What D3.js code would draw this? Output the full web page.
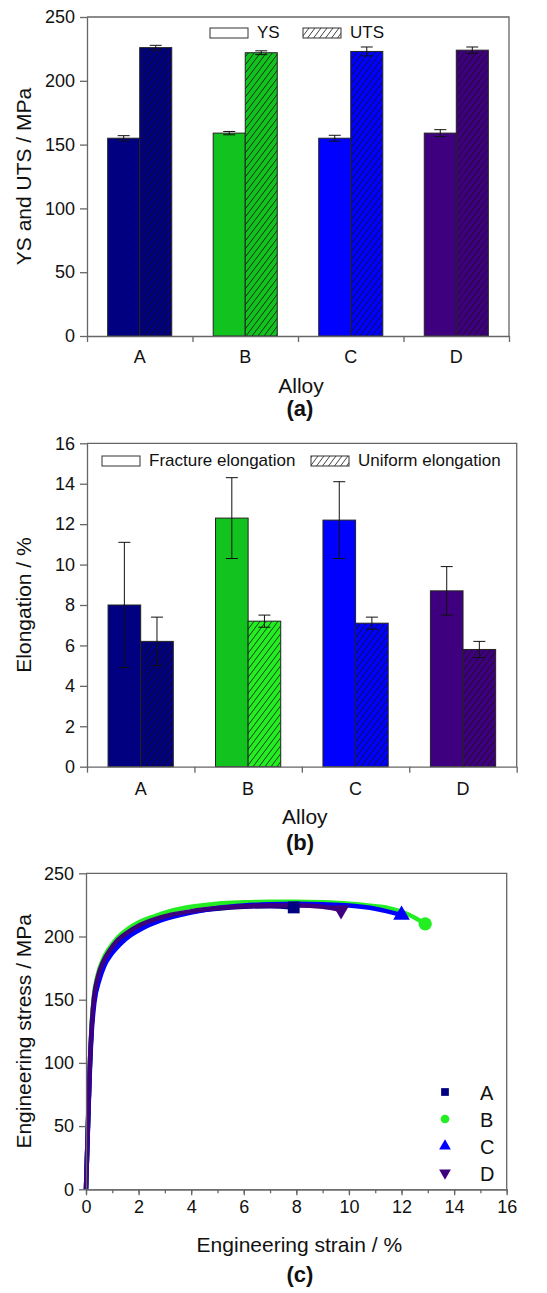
<!DOCTYPE html>
<html>
<head>
<meta charset="utf-8">
<script src="https://cdn.jsdelivr.net/npm/d3@7"></script>
<style>
  body { margin: 0; background: #fff; }
  text { font-family: "Liberation Sans", Arial, sans-serif; fill: #111; }
</style>
</head>
<body>
<div id="chart"></div>
<script>
var width = 547;
var height = 1293;

// categories and bar data
var categories = ["A", "B", "C", "D"];
var ysValues = [155, 159, 155, 159];
var ysErrors = [2, 1.3, 2.3, 2.7];
var utsValues = [226, 222, 223, 224];
var utsErrors = [1.8, 1.5, 3.5, 2.5];

var fractureValues = [8.0, 12.3, 12.2, 8.7];
var fractureErrors = [3.1, 2.0, 1.9, 1.2];
var uniformValues = [6.2, 7.2, 7.1, 5.8];
var uniformErrors = [1.2, 0.3, 0.3, 0.4];

var alloyColors = ["#000080", "#12c21f", "#0000ff", "#3f007f"];
var uniformColors = ["#000080", "#22ee22", "#0000ff", "#3f007f"];
var curveColors = ["#000080", "#22ee22", "#0000ff", "#3f007f"];

var yTicksA = [0, 50, 100, 150, 200, 250];
var yTicksB = [0, 2, 4, 6, 8, 10, 12, 14, 16];
var xTicksC = [0, 2, 4, 6, 8, 10, 12, 14, 16];
var yTicksC = [0, 50, 100, 150, 200, 250];

// stress-strain curves
var strainA = [0, 0.08, 0.15, 0.22, 0.3, 0.45, 0.65, 0.9, 1.2, 1.6, 2.0, 2.6, 3.2, 4.0, 5.0, 6.0, 7.0, 7.9];
var stressA = [0, 55, 100, 130, 150, 167, 179, 188, 196, 202.5, 207.5, 212.5, 216, 219.5, 222, 223.5, 224, 223];
var strainB = [0, 0.08, 0.15, 0.22, 0.3, 0.45, 0.65, 0.9, 1.2, 1.6, 2.0, 2.6, 3.2, 4.0, 5.0, 6.0, 7.0, 8.0, 9.0, 10.0, 11.0, 11.6, 12.2, 12.9];
var stressB = [0, 55, 100, 132, 153, 170, 182, 191, 199, 206, 211, 216, 220, 223.5, 226, 227, 227.5, 227.5, 227, 226, 224, 222, 218, 210];
var strainC = [0, 0.08, 0.15, 0.22, 0.32, 0.5, 0.7, 1.0, 1.3, 1.7, 2.1, 2.7, 3.3, 4.0, 5.0, 6.0, 7.0, 8.0, 9.0, 10.0, 11.0, 12.0];
var stressC = [0, 52, 95, 125, 148, 165, 177, 187, 194, 201, 206, 211.5, 215.5, 219, 222.5, 224.5, 225.5, 226, 225.5, 224.5, 222, 217];
var strainD = [0, 0.08, 0.15, 0.22, 0.3, 0.45, 0.65, 0.9, 1.2, 1.6, 2.0, 2.6, 3.2, 4.0, 5.0, 6.0, 7.0, 8.0, 9.0, 9.7];
var stressD = [0, 55, 100, 130, 151, 168, 180, 189, 197, 203.5, 208.5, 213.5, 217, 220, 222.5, 224, 224.5, 224.5, 223.5, 221];

var axisColor = "#666";
var tickFont = "18px";
var titleFont = "21px";

var svg = d3.select("#chart").append("svg")
    .attr("width", width)
    .attr("height", height);

var defs = svg.append("defs");

// one hatch pattern per fill colour
function hatchId(color) {
    var id = "hatch" + color.replace("#", "");
    if (defs.select("#" + id).empty()) {
        var p = defs.append("pattern")
            .attr("id", id)
            .attr("patternUnits", "userSpaceOnUse")
            .attr("width", 6)
            .attr("height", 8);
        p.append("rect").attr("width", 6).attr("height", 8).attr("fill", color);
        p.append("path")
            .attr("d", "M0,8 L6,0 M-1.5,2 L1.5,-2 M4.5,10 L7.5,6")
            .attr("stroke", "#111")
            .attr("stroke-width", 0.8);
    }
    return "url(#" + id + ")";
}

function styleAxis(g) {
    g.select(".domain").attr("stroke", axisColor).attr("stroke-width", 1.3);
    g.selectAll(".tick line").attr("stroke", axisColor).attr("stroke-width", 1.3);
    g.selectAll(".tick text").style("font-size", tickFont).attr("fill", "#111");
}

function drawFrame(left, top, right, bottom) {
    svg.append("path")
        .attr("d", "M" + left + "," + top + " L" + right + "," + top + " L" + right + "," + bottom)
        .attr("fill", "none")
        .attr("stroke", axisColor)
        .attr("stroke-width", 1.3);
}

function addTitles(cfg) {
    svg.append("text")
        .attr("transform", "translate(31," + ((cfg.top + cfg.bottom) / 2) + ") rotate(-90)")
        .attr("text-anchor", "middle")
        .style("font-size", titleFont)
        .text(cfg.yTitle);

    svg.append("text")
        .attr("x", (cfg.left + cfg.right) / 2 + 3)
        .attr("y", cfg.xTitleY)
        .attr("text-anchor", "middle")
        .style("font-size", titleFont)
        .text(cfg.xTitle);

    svg.append("text")
        .attr("x", 300)
        .attr("y", cfg.letterY)
        .attr("text-anchor", "middle")
        .style("font-size", "22px")
        .style("font-weight", "bold")
        .text(cfg.letter);
}

function drawBarPanel(cfg) {
    var x = d3.scaleBand()
        .domain(categories)
        .range([cfg.left, cfg.right])
        .paddingInner(0.393)
        .paddingOuter(0.196);
    var xSeries = d3.scaleBand()
        .domain([0, 1])
        .range([0, x.bandwidth()]);
    var y = d3.scaleLinear()
        .domain([0, cfg.yMax])
        .range([cfg.bottom, cfg.top]);

    drawFrame(cfg.left, cfg.top, cfg.right, cfg.bottom);

    var rows = categories.map(function (c, i) {
        return [
            { cat: c, s: 0, value: cfg.values[0][i], err: cfg.errors[0][i], fill: cfg.colors[0][i] },
            { cat: c, s: 1, value: cfg.values[1][i], err: cfg.errors[1][i], fill: hatchId(cfg.colors[1][i]) }
        ];
    });
    var bars = d3.merge(rows);

    var g = svg.append("g");
    g.selectAll("rect")
        .data(bars)
        .enter()
        .append("rect")
        .attr("x", function (d) { return x(d.cat) + xSeries(d.s); })
        .attr("y", function (d) { return y(d.value); })
        .attr("width", xSeries.bandwidth())
        .attr("height", function (d) { return y(0) - y(d.value); })
        .attr("fill", function (d) { return d.fill; })
        .attr("stroke", "#222")
        .attr("stroke-width", 1);

    // error bars
    var capHalf = 6;
    var eb = g.selectAll("g.err")
        .data(bars)
        .enter()
        .append("g")
        .attr("class", "err")
        .attr("stroke", "#111")
        .attr("stroke-width", 1);
    function cx(d) { return x(d.cat) + xSeries(d.s) + xSeries.bandwidth() / 2; }
    eb.append("line")
        .attr("x1", cx).attr("x2", cx)
        .attr("y1", function (d) { return y(d.value + d.err); })
        .attr("y2", function (d) { return y(d.value - d.err); });
    eb.append("line")
        .attr("x1", function (d) { return cx(d) - capHalf; })
        .attr("x2", function (d) { return cx(d) + capHalf; })
        .attr("y1", function (d) { return y(d.value + d.err); })
        .attr("y2", function (d) { return y(d.value + d.err); });
    eb.append("line")
        .attr("x1", function (d) { return cx(d) - capHalf; })
        .attr("x2", function (d) { return cx(d) + capHalf; })
        .attr("y1", function (d) { return y(d.value - d.err); })
        .attr("y2", function (d) { return y(d.value - d.err); });

    // y axis
    var yAxis = svg.append("g")
        .attr("transform", "translate(" + cfg.left + ",0)")
        .call(d3.axisLeft(y).tickValues(cfg.yTicks).tickSize(7).tickPadding(5).tickSizeOuter(0));
    styleAxis(yAxis);

    // x axis: ticks at the category boundaries, labels at band centres
    var bounds = d3.scaleLinear().domain([0, categories.length]).range([cfg.left, cfg.right]);
    var xAxis = svg.append("g")
        .attr("transform", "translate(0," + cfg.bottom + ")")
        .call(d3.axisBottom(bounds).ticks(categories.length).tickFormat("").tickSize(6).tickSizeOuter(0));
    styleAxis(xAxis);

    svg.append("g").selectAll("text")
        .data(categories)
        .enter()
        .append("text")
        .attr("x", function (d) { return x(d) + x.bandwidth() / 2; })
        .attr("y", cfg.bottom + cfg.labelGap)
        .attr("text-anchor", "middle")
        .style("font-size", tickFont)
        .text(function (d) { return d; });

    // legend
    var leg = svg.append("g");
    cfg.legend.forEach(function (item, i) {
        leg.append("rect")
            .attr("x", item.x)
            .attr("y", cfg.legendY - 10)
            .attr("width", 38)
            .attr("height", 10)
            .attr("fill", i === 0 ? "#fff" : hatchId("#ffffff"))
            .attr("stroke", "#333")
            .attr("stroke-width", 1);
        leg.append("text")
            .attr("x", item.x + 47)
            .attr("y", cfg.legendY)
            .style("font-size", "17px")
            .text(item.label);
    });

    addTitles(cfg);
}

drawBarPanel({
    left: 87, right: 509, top: 17, bottom: 336,
    yMax: 250, yTicks: yTicksA,
    values: [ysValues, utsValues],
    errors: [ysErrors, utsErrors],
    colors: [alloyColors, alloyColors],
    legendY: 38,
    legend: [{ x: 210, label: "YS" }, { x: 303, label: "UTS" }],
    labelGap: 27,
    yTitle: "YS and UTS / MPa",
    xTitle: "Alloy", xTitleY: 393,
    letter: "(a)", letterY: 416
});

drawBarPanel({
    left: 87, right: 516.7, top: 443.3, bottom: 766.7,
    yMax: 16, yTicks: yTicksB,
    values: [fractureValues, uniformValues],
    errors: [fractureErrors, uniformErrors],
    colors: [alloyColors, uniformColors],
    legendY: 466,
    legend: [{ x: 102, label: "Fracture elongation" }, { x: 311, label: "Uniform elongation" }],
    labelGap: 28,
    yTitle: "Elongation / %",
    xTitle: "Alloy", xTitleY: 824,
    letter: "(b)", letterY: 850
});

// ---- panel (c): stress-strain curves ----
var cfgC = {
    left: 86, right: 506.7, top: 873.3, bottom: 1189.3,
    yTitle: "Engineering stress / MPa",
    xTitle: "Engineering strain / %", xTitleY: 1252,
    letter: "(c)", letterY: 1282
};

var xC = d3.scaleLinear().domain([0, 16]).range([cfgC.left, cfgC.right]);
var yC = d3.scaleLinear().domain([0, 250]).range([cfgC.bottom, cfgC.top]);

drawFrame(cfgC.left, cfgC.top, cfgC.right, cfgC.bottom);

var curves = [
    { name: "A", strain: strainA, stress: stressA, color: curveColors[0], symbol: d3.symbolSquare },
    { name: "B", strain: strainB, stress: stressB, color: curveColors[1], symbol: d3.symbolCircle },
    { name: "C", strain: strainC, stress: stressC, color: curveColors[2], symbol: d3.symbolTriangle },
    { name: "D", strain: strainD, stress: stressD, color: curveColors[3], symbol: d3.symbolTriangle }
];

var line = d3.line()
    .x(function (d) { return xC(d[0]); })
    .y(function (d) { return yC(d[1]); })
    .curve(d3.curveMonotoneX);

var drawOrder = [0, 1, 2, 3];
drawOrder.forEach(function (i) {
    var c = curves[i];
    var pts = c.strain.map(function (s, k) { return [s, c.stress[k]]; });
    svg.append("path")
        .datum(pts)
        .attr("d", line)
        .attr("fill", "none")
        .attr("stroke", c.color)
        .attr("stroke-width", 4.5)
        .attr("stroke-linejoin", "round");
});

function symbolPath(c, size) {
    return d3.symbol().type(c.symbol).size(size)();
}

curves.forEach(function (c) {
    var last = c.strain.length - 1;
    var rot = c.name === "D" ? " rotate(180)" : "";
    svg.append("path")
        .attr("d", symbolPath(c, c.name === "B" ? 140 : (c.name === "A" ? 140 : 120)))
        .attr("transform", "translate(" + xC(c.strain[last]) + "," + yC(c.stress[last]) + ")" + rot)
        .attr("fill", c.color);
});

// legend for (c)
curves.forEach(function (c, i) {
    var ly = 1092 + i * 27;
    var rot = c.name === "D" ? " rotate(180)" : "";
    svg.append("path")
        .attr("d", symbolPath(c, 60))
        .attr("transform", "translate(445," + ly + ")" + rot)
        .attr("fill", c.color);
    svg.append("text")
        .attr("x", 480)
        .attr("y", ly + 7.5)
        .style("font-size", "20px")
        .text(c.name);
});

var yAxisC = svg.append("g")
    .attr("transform", "translate(" + cfgC.left + ",0)")
    .call(d3.axisLeft(yC).tickValues(yTicksC).tickSize(7).tickPadding(5).tickSizeOuter(0));
styleAxis(yAxisC);

var xAxisMinor = svg.append("g")
    .attr("transform", "translate(0," + cfgC.bottom + ")")
    .call(d3.axisBottom(xC).ticks(16).tickFormat("").tickSize(4).tickSizeOuter(0));
styleAxis(xAxisMinor);

var xAxisC = svg.append("g")
    .attr("transform", "translate(0," + cfgC.bottom + ")")
    .call(d3.axisBottom(xC).tickValues(xTicksC).tickSize(6).tickPadding(5).tickSizeOuter(0));
styleAxis(xAxisC);

addTitles(cfgC);
</script>
</body>
</html>
